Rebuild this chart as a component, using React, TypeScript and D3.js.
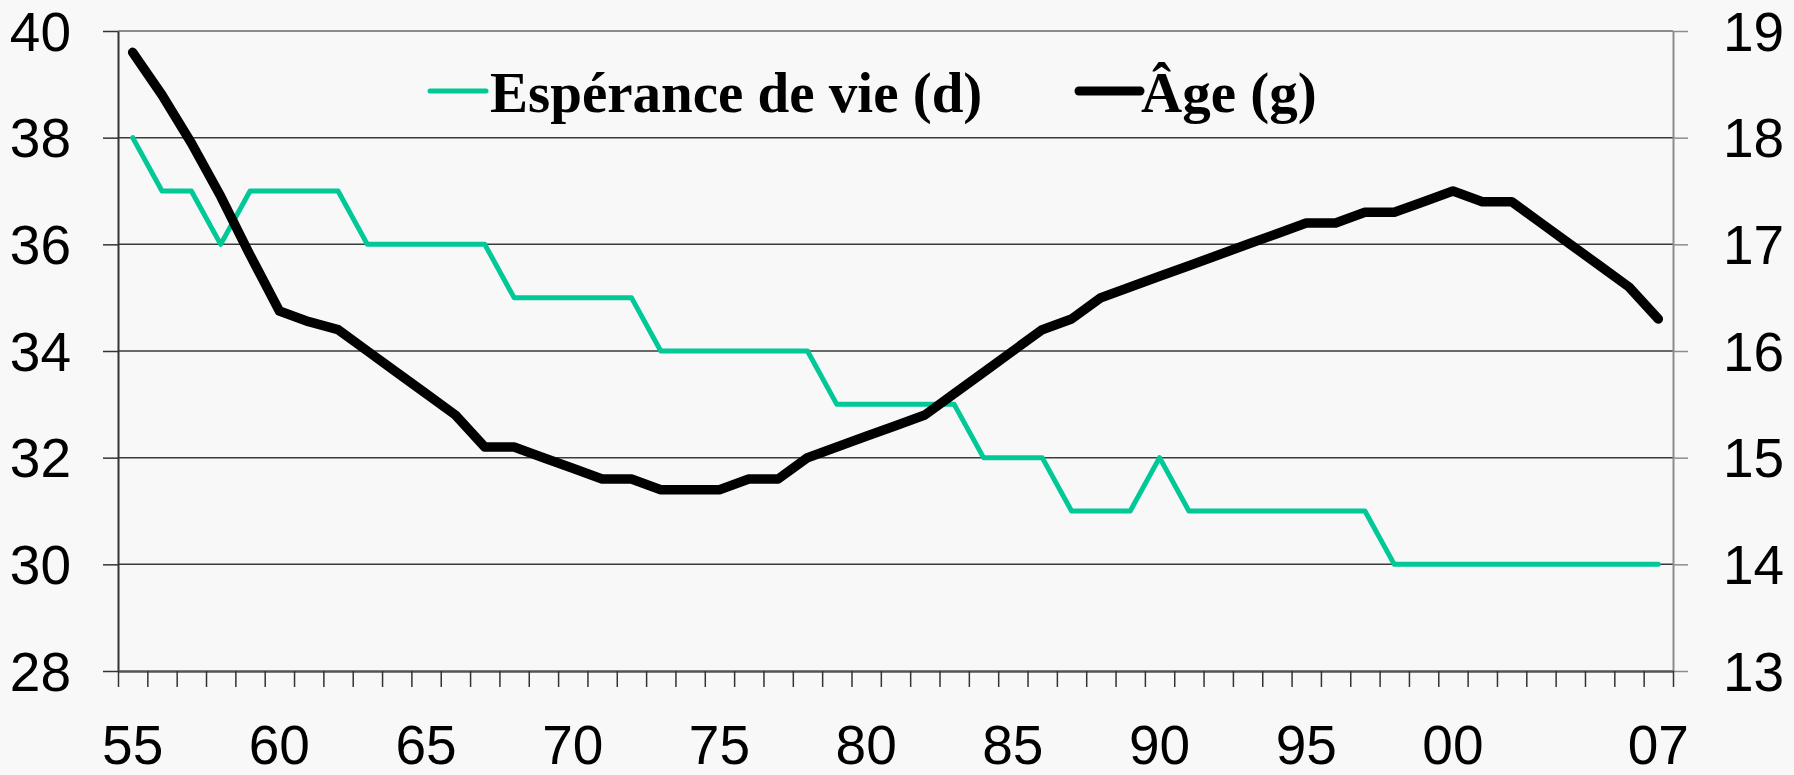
import React, { useEffect, useRef } from 'react'
import * as d3 from 'd3'

// years on the category axis (1955-2007)
const years = d3.range(1955, 2008)

// Âge (g) -> left axis
const ageValues = [
  39.6, 38.8, 37.9, 36.9, 35.8, 34.75, 34.55, 34.4, 34.0, 33.6,
  33.2, 32.8, 32.2, 32.2, 32.0, 31.8, 31.6, 31.6, 31.4, 31.4,
  31.4, 31.6, 31.6, 32.0, 32.2, 32.4, 32.6, 32.8, 33.2, 33.6,
  34.0, 34.4, 34.6, 35.0, 35.2, 35.4, 35.6, 35.8, 36.0, 36.2,
  36.4, 36.4, 36.6, 36.6, 36.8, 37.0, 36.8, 36.8, 36.4, 36.0,
  35.6, 35.2, 34.6
]

// Espérance de vie (d) -> right axis
const lifeValues = [
  18, 17.5, 17.5, 17, 17.5, 17.5, 17.5, 17.5, 17, 17,
  17, 17, 17, 16.5, 16.5, 16.5, 16.5, 16.5, 16, 16,
  16, 16, 16, 16, 15.5, 15.5, 15.5, 15.5, 15.5, 15,
  15, 15, 14.5, 14.5, 14.5, 15, 14.5, 14.5, 14.5, 14.5,
  14.5, 14.5, 14.5, 14, 14, 14, 14, 14, 14, 14,
  14, 14, 14
]

const leftTicks = [28, 30, 32, 34, 36, 38, 40]
const rightTicks = [13, 14, 15, 16, 17, 18, 19]
const labelYears = [1955, 1960, 1965, 1970, 1975, 1980, 1985, 1990, 1995, 2000, 2007]

const legendItems = [
  { label: 'Espérance de vie (d)', color: '#00c896', width: 5 },
  { label: 'Âge (g)', color: '#000000', width: 9 }
]

const App = () => {
  const ref = useRef(null)

  useEffect(() => {
    const svg = d3.select(ref.current)
    svg.selectAll('*').remove()

    const W = 1794, H = 775
    const m = { left: 118, right: 1673, top: 31, bottom: 671 }
    const sans = 'Liberation Sans, Arial, sans-serif'
    const intFmt = d3.format('d')

    svg.append('rect').attr('width', W).attr('height', H).attr('fill', '#f8f8f8')

    // scales
    const x = d3.scaleBand().domain(years).range([m.left, m.right])
    const cx = (yr) => x(yr) + x.bandwidth() / 2
    const xIdx = d3.scaleLinear().domain([0, years.length]).range([m.left, m.right])
    const yL = d3.scaleLinear().domain([28, 40]).range([m.bottom, m.top])
    const yR = d3.scaleLinear().domain([13, 19]).range([m.bottom, m.top])

    // gridlines
    svg.append('g')
      .selectAll('line')
      .data(leftTicks.filter(t => t > 28 && t < 40))
      .enter()
      .append('line')
      .attr('x1', m.left).attr('x2', m.right)
      .attr('y1', d => yL(d)).attr('y2', d => yL(d))
      .attr('stroke', '#3a3a3a').attr('stroke-width', 1.5)

    // top border
    svg.append('line')
      .attr('x1', m.left).attr('x2', m.right)
      .attr('y1', yL(40)).attr('y2', yL(40))
      .attr('stroke', '#8c8c8c').attr('stroke-width', 2)

    // left axis
    const gl = svg.append('g')
      .attr('transform', `translate(${m.left},0)`)
      .call(d3.axisLeft(yL).tickValues(leftTicks).tickFormat(intFmt).tickSize(15).tickSizeOuter(0).tickPadding(32))
    gl.select('.domain').attr('stroke', '#333').attr('stroke-width', 2)
    gl.selectAll('.tick line').attr('stroke', '#333').attr('stroke-width', 1.5)
    gl.selectAll('text')
      .attr('font-family', sans).attr('font-size', 55).attr('fill', '#000')
      .attr('dy', '0.35em')

    // right axis
    const gr = svg.append('g')
      .attr('transform', `translate(${m.right},0)`)
      .call(d3.axisRight(yR).tickValues(rightTicks).tickFormat(intFmt).tickSize(15).tickSizeOuter(0).tickPadding(35))
    gr.select('.domain').attr('stroke', '#8c8c8c').attr('stroke-width', 2)
    gr.selectAll('.tick line').attr('stroke', '#8c8c8c').attr('stroke-width', 1.5)
    gr.selectAll('text')
      .attr('font-family', sans).attr('font-size', 55).attr('fill', '#000')
      .attr('dy', '0.35em')

    // bottom axis: ticks at category boundaries
    const gb = svg.append('g')
      .attr('transform', `translate(0,${m.bottom})`)
      .call(d3.axisBottom(xIdx).tickValues(d3.range(years.length + 1)).tickSize(16).tickSizeOuter(0).tickFormat(() => ''))
    gb.select('.domain').attr('stroke', '#555').attr('stroke-width', 2.5)
    gb.selectAll('.tick line').attr('stroke', '#333').attr('stroke-width', 1.5)

    svg.append('g')
      .selectAll('text')
      .data(labelYears)
      .enter()
      .append('text')
      .attr('x', d => cx(d))
      .attr('y', 764)
      .attr('text-anchor', 'middle')
      .attr('font-family', sans).attr('font-size', 55)
      .text(d => String(d).slice(2))

    // lines
    const lifeLine = d3.line().x((d, i) => cx(years[i])).y(d => yR(d))
    svg.append('path')
      .attr('d', lifeLine(lifeValues))
      .attr('fill', 'none').attr('stroke', '#00c896').attr('stroke-width', 5)
      .attr('stroke-linejoin', 'round').attr('stroke-linecap', 'round')

    const ageLine = d3.line().x((d, i) => cx(years[i])).y(d => yL(d))
    svg.append('path')
      .attr('d', ageLine(ageValues))
      .attr('fill', 'none').attr('stroke', '#000').attr('stroke-width', 9.5)
      .attr('stroke-linejoin', 'round').attr('stroke-linecap', 'round')

    // legend
    const legendX = [430, 1079]
    const lg = svg.append('g')
    legendItems.forEach((item, i) => {
      const g = lg.append('g').attr('transform', `translate(${legendX[i]},91)`)
      g.append('line')
        .attr('x1', 0).attr('x2', i === 0 ? 56 : 61)
        .attr('stroke', item.color).attr('stroke-width', item.width)
        .attr('stroke-linecap', 'round')
      g.append('text')
        .attr('x', i === 0 ? 60 : 62)
        .attr('y', 21)
        .attr('font-family', 'Liberation Serif, Times New Roman, serif')
        .attr('font-weight', 'bold')
        .attr('font-size', 57)
        .text(item.label)
    })
  }, [])

  return (
    <svg ref={ref} width={1794} height={775} style={{ position: 'absolute', left: 0, top: 0 }}></svg>
  )
}

export default App
